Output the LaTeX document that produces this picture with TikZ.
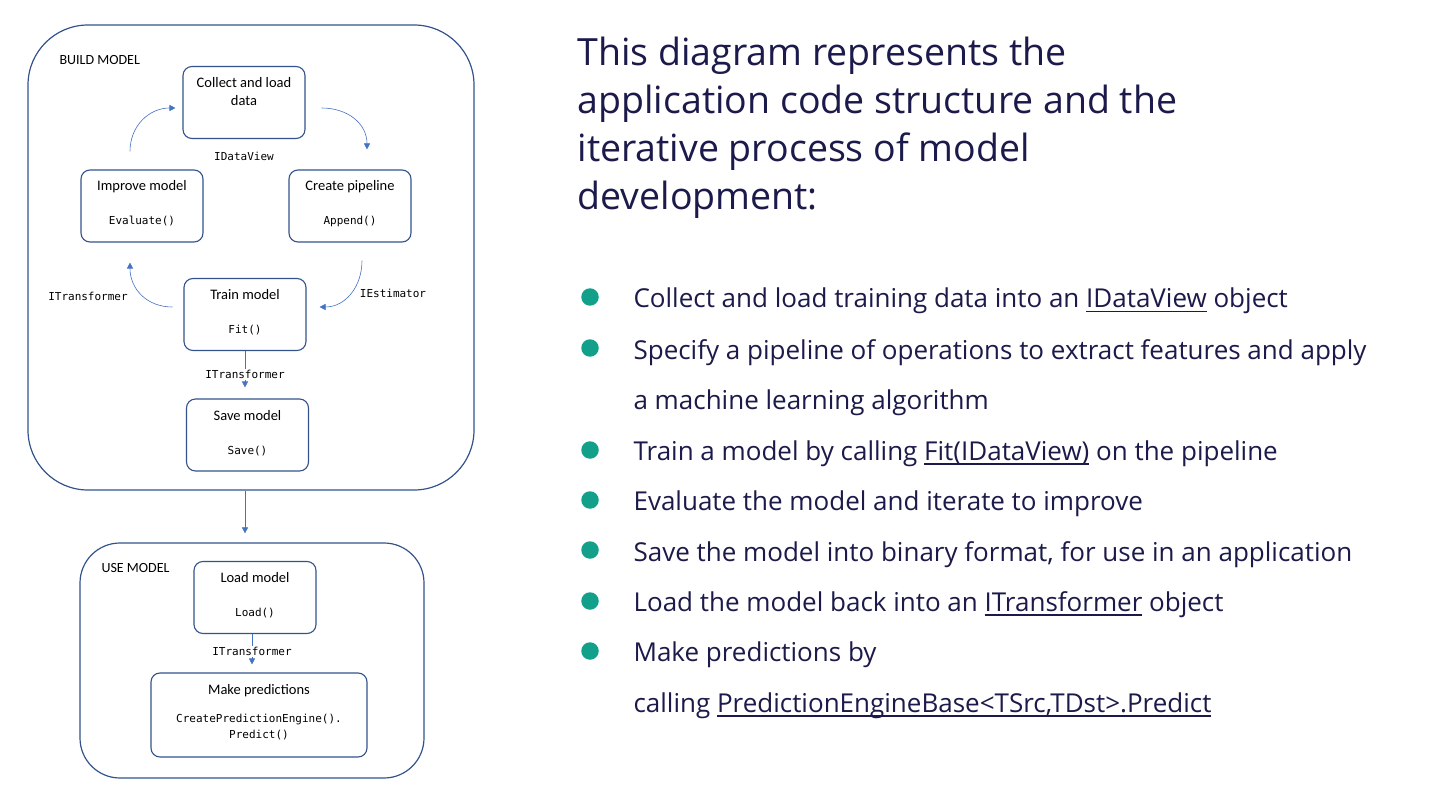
\documentclass[tikz,border=0pt]{standalone}
\usepackage{fontspec}
\setmainfont{Open Sans}
\newfontfamily\boxfont{Carlito}
\newfontfamily\codefont{DejaVu Sans Mono}
\usetikzlibrary{arrows.meta}
\definecolor{navy}{HTML}{1B1A4A}
\definecolor{teal}{HTML}{12A08A}
\definecolor{frame}{HTML}{34538C}
\definecolor{arrowblue}{HTML}{4472C4}
\newcommand{\fn}[1]{{\codefont\fontsize{11}{16}\selectfont #1}}
\newcommand{\stack}[1]{\begin{tabular}[t]{@{}c@{}}#1\end{tabular}}
\newcommand{\undl}[1]{\setbox0\hbox{#1}\rlap{\rule[-4.5pt]{\wd0}{1.6pt}}\box0\relax}

\begin{document}
\begin{tikzpicture}[x = 1pt, y = -1pt, >={Triangle[length = 6pt, width = 6pt]}, line width = 1.1pt]
    \tikzstyle{group} = [draw = frame, shape = rectangle, line width = 1.2pt, inner sep = 0pt]
    \tikzstyle{block} = [draw = frame, shape = rectangle, rounded corners = 9pt, inner sep = 0pt, minimum width = 122pt, text height = 21pt, text depth = 51pt, font = \boxfont\fontsize{14.5}{18}\selectfont]
    \tikzstyle{tag} = [inner sep = 1pt, font = \codefont\fontsize{11}{14}\selectfont]
    \tikzstyle{head} = [anchor = west, inner sep = 0pt, font = \boxfont\fontsize{14}{16}\selectfont]
    \tikzstyle{flow} = [->, draw = arrowblue, line width = 0.6pt]
    \tikzstyle{dot} = [fill = teal, shape = circle, minimum size = 17.5pt, inner sep = 0pt]
    \tikzstyle{item} = [anchor = base west, inner sep = 0pt, text = navy, font = \fontsize{26}{30}\selectfont]

    \fill[white] (0,0) rectangle (1440,810);
    \useasboundingbox (0,0) rectangle (1440,810);

    \node[group, minimum width = 446pt, minimum height = 465pt, rounded corners = 60pt] (build) at (251,257.5) {};
    \node[group, minimum width = 344pt, minimum height = 235pt, rounded corners = 40pt] (use) at (252,660.5) {};
    \node[head] (buildlabel) at (59,60) {BUILD MODEL};
    \node[head] (uselabel) at (101,568) {USE MODEL};

    \node[block] (collect) at (244,102.5) {\stack{Collect and load\\data}};
    \node[block] (improve) at (142,206) {\stack{Improve model\\[16pt]\fn{Evaluate()}}};
    \node[block] (create) at (350,206) {\stack{Create pipeline\\[16pt]\fn{Append()}}};
    \node[block] (train) at (245,314.5) {\stack{Train model\\[16pt]\fn{Fit()}}};
    \node[block] (save) at (247.5,435) {\stack{Save model\\[16pt]\fn{Save()}}};
    \node[block] (load) at (255,597.5) {\stack{Load model\\[16pt]\fn{Load()}}};
    \node[block, minimum width = 216pt, text depth = 63pt] (make) at (259,715)
        {\stack{Make predictions\\[10pt]\fn{CreatePredictionEngine().}\\[-2pt]\fn{Predict()}}};

    \node[tag] (dataview) at (244,156) {IDataView};
    \node[tag] (estimator) at (393,293) {IEstimator};
    \node[tag] (transformer) at (88,296) {ITransformer};

    \draw[flow] ([xshift = -12pt, yshift = 18pt]improve.north) .. controls +(0,-26) and +(-26,0) .. ([xshift = -7pt, yshift = -5.5pt]collect.west);
    \draw[flow] ([xshift = 16pt, yshift = -5.5pt]collect.east) .. controls +(26,0) and +(0,-26) .. ([xshift = 17pt, yshift = 20pt]create.north);
    \draw[flow] ([xshift = 12pt, yshift = -18pt]create.south) .. controls +(0,26) and +(26,0) .. ([xshift = 13pt, yshift = 7.5pt]train.east);
    \draw[flow] ([xshift = -11pt, yshift = 7.5pt]train.west) .. controls +(-26,0) and +(0,26) .. ([xshift = -12pt, yshift = -20pt]improve.south);

    \draw[flow, shorten > = 11pt] (train.south) -- node[tag, fill = white] {ITransformer} (train.south |- save.north);
    \draw[flow, shorten > = 9pt] (build.south -| train) -- (use.north -| train);
    \draw[flow, shorten > = 8pt] ([xshift = -3pt]load.south) -- node[tag, fill = white, pos = 0.45] {ITransformer} ([xshift = -3pt]load.south |- make.north);

    \node[anchor = base west, inner sep = 0pt, align = left, text = navy, font = \fontsize{37.5}{48}\selectfont] (title) at (577,210)
        {This diagram represents the\\application code structure and the\\iterative process of model\\development:};

    \node[dot] (dot1) at (590,297) {};
    \node[dot] (dot2) at (590,348) {};
    \node[dot] (dot3) at (590,450) {};
    \node[dot] (dot4) at (590,500) {};
    \node[dot] (dot5) at (590,550) {};
    \node[dot] (dot6) at (590,601) {};
    \node[dot] (dot7) at (590,651) {};

    \node[item] (line1) at (633,308) {Collect and load training data into an \undl{IDataView} object};
    \node[item] (line2) at (633,359) {Specify a pipeline of operations to extract features and apply};
    \node[item] (line3) at (633,409) {a machine learning algorithm};
    \node[item] (line4) at (633,460) {Train a model by calling \undl{Fit(IDataView)} on the pipeline};
    \node[item] (line5) at (633,510) {Evaluate the model and iterate to improve};
    \node[item] (line6) at (633,561) {Save the model into binary format, for use in an application};
    \node[item] (line7) at (633,611) {Load the model back into an \undl{ITransformer} object};
    \node[item] (line8) at (633,661) {Make predictions by};
    \node[item] (line9) at (633,712) {calling \undl{PredictionEngineBase<TSrc,TDst>.Predict}};
\end{tikzpicture}
\end{document}
